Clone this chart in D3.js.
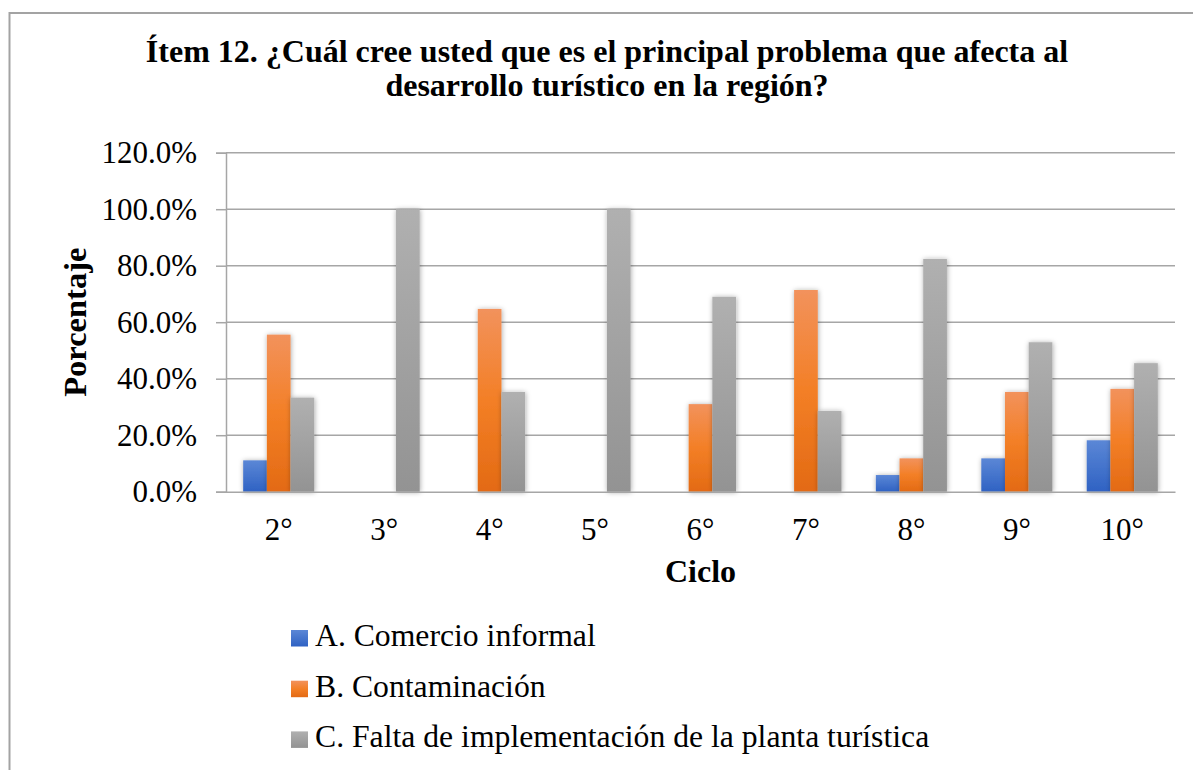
<!DOCTYPE html>
<html>
<head>
<meta charset="utf-8">
<script src="https://cdn.jsdelivr.net/npm/d3@7"></script>
<style>
  body { margin: 0; background: #fff; }
  text { font-family: "Liberation Serif", "Times New Roman", serif; fill: #000; }
</style>
</head>
<body>
<div id="chart"></div>
<script>
(function () {

    const ciclos = ['2°', '3°', '4°', '5°', '6°', '7°', '8°', '9°', '10°'];
    const seriesNames = ['A. Comercio informal', 'B. Contaminación', 'C. Falta de implementación de la planta turística'];
    const comercio = [11.1, 0, 0, 0, 0, 0, 5.9, 11.8, 18.2];
    const contaminacion = [55.6, 0, 64.7, 0, 31.0, 71.4, 11.8, 35.3, 36.4];
    const faltaPlanta = [33.3, 100, 35.3, 100, 69.0, 28.6, 82.4, 52.9, 45.5];
    const yTicks = [0, 20, 40, 60, 80, 100, 120];
    const titleLines = ['Ítem 12. ¿Cuál cree usted que es el principal problema que afecta al', 'desarrollo turístico en la región?'];

    const seriesValues = [comercio, contaminacion, faltaPlanta];
    // gradient stops per series (top -> bottom)
    const gradients = [
        ['#5b87d6', '#2f62c3'],
        ['#f2925c', '#f37f26', '#e36a14'],
        ['#b0b0b0', '#939393']
    ];

    const width = 1193;
    const height = 770;
    const plot = { left: 226, right: 1175, top: 152.7, bottom: 491.7 };

    const svg = d3.select('#chart')
        .append('svg')
        .attr('width', width)
        .attr('height', height);

    const defs = svg.append('defs');

    gradients.forEach((stops, i) => {
        const g = defs.append('linearGradient')
            .attr('id', 'grad' + i)
            .attr('x1', 0).attr('y1', 0).attr('x2', 0).attr('y2', 1);
        stops.forEach((c, j) => {
            g.append('stop')
                .attr('offset', (j / (stops.length - 1) * 100) + '%')
                .attr('stop-color', c);
        });
    });

    defs.append('filter')
        .attr('id', 'shadow')
        .attr('x', '-50%').attr('y', '-20%').attr('width', '200%').attr('height', '140%')
        .append('feDropShadow')
        .attr('dx', 0.5).attr('dy', 0.5)
        .attr('stdDeviation', 2.5)
        .attr('flood-color', '#000')
        .attr('flood-opacity', 0.35);

    // outer frame
    svg.append('rect')
        .attr('x', 9.5).attr('y', 13)
        .attr('width', 1220).attr('height', 800)
        .attr('fill', 'none')
        .attr('stroke', '#a3a3a3')
        .attr('stroke-width', 2);

    // title
    svg.append('text')
        .attr('x', 607)
        .attr('y', 62)
        .attr('text-anchor', 'middle')
        .style('font-weight', 'bold')
        .style('font-size', '32px')
        .selectAll('tspan')
        .data(titleLines)
        .join('tspan')
        .attr('x', 607)
        .attr('dy', (d, i) => i === 0 ? 0 : 33.5)
        .text(d => d);

    const x = d3.scaleBand()
        .domain(ciclos)
        .range([plot.left, plot.right])
        .paddingInner(0.326)
        .paddingOuter(0.163);

    const xSeries = d3.scaleBand()
        .domain(d3.range(seriesValues.length))
        .range([0, x.bandwidth()]);

    const y = d3.scaleLinear()
        .domain([0, 120])
        .range([plot.bottom, plot.top]);

    // gridlines
    svg.append('g')
        .selectAll('line')
        .data(yTicks.filter(d => d > 0))
        .join('line')
        .attr('x1', plot.left).attr('x2', plot.right)
        .attr('y1', d => y(d)).attr('y2', d => y(d))
        .attr('stroke', '#a6a6a6')
        .attr('stroke-width', 1.5);

    // bars
    const groups = svg.append('g')
        .selectAll('g')
        .data(ciclos)
        .join('g')
        .attr('transform', d => `translate(${x(d)},0)`);

    groups.selectAll('rect')
        .data((d, i) => seriesValues.map((s, k) => ({ k: k, v: s[i] })).filter(e => e.v > 0))
        .join('rect')
        .attr('x', d => xSeries(d.k))
        .attr('width', xSeries.bandwidth())
        .attr('y', d => y(d.v))
        .attr('height', d => y(0) - y(d.v))
        .attr('fill', d => `url(#grad${d.k})`)
        .attr('filter', 'url(#shadow)');

    // y axis
    const yAxis = svg.append('g')
        .attr('transform', `translate(${plot.left},0)`)
        .call(d3.axisLeft(y).tickValues(yTicks).tickSize(10).tickPadding(19)
            .tickFormat(d => d3.format('.1f')(d) + '%'));
    yAxis.select('.domain').attr('stroke', '#a6a6a6').attr('stroke-width', 1.5);
    yAxis.selectAll('.tick line').attr('stroke', '#a6a6a6').attr('stroke-width', 1.5);
    yAxis.selectAll('.tick text')
        .attr('dy', '0.33em')
        .style('font-size', '31px')
        .style('font-family', '"Liberation Serif", "Times New Roman", serif')
        .attr('fill', '#000');

    // x axis
    const xAxis = svg.append('g')
        .attr('transform', `translate(0,${plot.bottom})`)
        .call(d3.axisBottom(x).tickSize(0).tickPadding(0));
    xAxis.select('.domain').attr('stroke', '#a6a6a6').attr('stroke-width', 1.5);
    xAxis.selectAll('.tick text')
        .attr('y', 48)
        .attr('dy', 0)
        .style('font-size', '31px')
        .style('font-family', '"Liberation Serif", "Times New Roman", serif')
        .attr('fill', '#000');

    // axis titles
    svg.append('text')
        .attr('x', (plot.left + plot.right) / 2)
        .attr('y', 582)
        .attr('text-anchor', 'middle')
        .style('font-weight', 'bold')
        .style('font-size', '32px')
        .text('Ciclo');

    svg.append('text')
        .attr('transform', `translate(86,${(plot.top + plot.bottom) / 2}) rotate(-90)`)
        .attr('text-anchor', 'middle')
        .style('font-weight', 'bold')
        .style('font-size', '32.5px')
        .text('Porcentaje');

    // legend
    const legend = svg.append('g')
        .attr('transform', 'translate(291,630)')
        .selectAll('g')
        .data(seriesNames)
        .join('g')
        .attr('transform', (d, i) => `translate(0,${i * 50.7})`);

    legend.append('rect')
        .attr('width', 17)
        .attr('height', 16.5)
        .attr('fill', (d, i) => `url(#grad${i})`);

    legend.append('text')
        .attr('x', 24)
        .attr('y', 16)
        .style('font-size', '31.7px')
        .text(d => d);

})();
</script>
</body>
</html>
